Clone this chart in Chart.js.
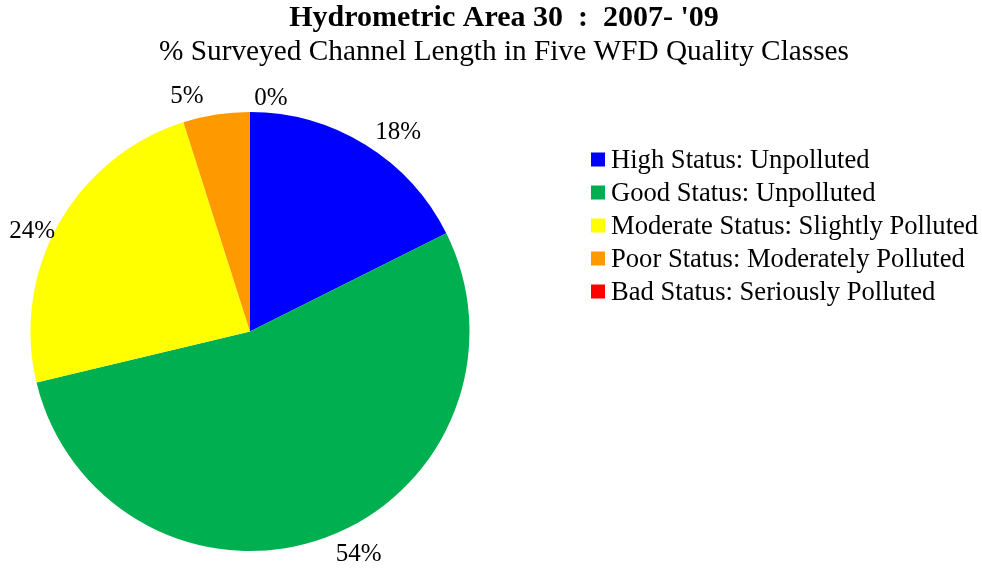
<!DOCTYPE html>
<html>
<head>
<meta charset="utf-8">
<title>Hydrometric Area 30</title>
<script src="https://cdn.jsdelivr.net/npm/chart.js@4/dist/chart.umd.min.js"></script>
<style>
  html, body { margin: 0; padding: 0; background: #fff; }
  #wrap { width: 982px; height: 570px; }
</style>
</head>
<body>
<div id="wrap"><canvas id="statusChart" width="982" height="570"></canvas></div>
<script>
// WFD classes and % of surveyed channel length
const categories = [
    'High Status: Unpolluted',
    'Good Status: Unpolluted',
    'Moderate Status: Slightly Polluted',
    'Poor Status: Moderately Polluted',
    'Bad Status: Seriously Polluted'
];
const shares = [17.6, 53.6, 23.8, 4.9, 0];
const colours = ['#0000FF', '#00B050', '#FFFF00', '#FF9900', '#FF0000'];

const titleText = "Hydrometric Area 30  :  2007- '09";
const subtitleText = '% Surveyed Channel Length in Five WFD Quality Classes';

const SERIF = "'Liberation Serif', 'Times New Roman', serif";

// labels, legend and headings drawn on the canvas
const textPlugin = {
    id: 'chartText',
    afterDatasetsDraw(chart, args, opts) {
        const ctx = chart.ctx;
        const total = shares.reduce((a, b) => a + b, 0);
        ctx.save();
        ctx.fillStyle = '#000';

        // percentage labels outside each slice (nudged like excel does)
        ctx.font = opts.labelFont;
        ctx.textAlign = 'center';
        ctx.textBaseline = 'middle';
        const arcs = chart.getDatasetMeta(0).data;
        arcs.forEach((arc, i) => {
            const p = arc.getProps(['x', 'y', 'startAngle', 'endAngle', 'outerRadius'], true);
            const n = opts.nudge[i] || [0, 0];
            const a = (p.startAngle + p.endAngle) / 2 + n[0] * Math.PI / 180;
            const d = p.outerRadius + opts.labelGap + n[1];
            const pct = Math.round(shares[i] / total * 100) + '%';
            ctx.fillText(pct, p.x + Math.cos(a) * d, p.y + Math.sin(a) * d);
        });

        // title + subtitle
        ctx.textBaseline = 'alphabetic';
        ctx.font = 'bold ' + opts.titleFont;
        ctx.fillText(titleText, opts.titleX, opts.titleY);
        ctx.font = opts.subtitleFont;
        ctx.fillText(subtitleText, opts.titleX, opts.subtitleY);

        // legend
        ctx.textAlign = 'left';
        ctx.font = opts.legendFont;
        categories.forEach((name, i) => {
            const cy = opts.legendY + i * opts.legendStep;
            ctx.fillStyle = colours[i];
            ctx.fillRect(opts.legendX, cy - opts.box / 2, opts.box, opts.box);
            ctx.fillStyle = '#000';
            ctx.fillText(name, opts.legendX + opts.box + 6, cy + 8);
        });
        ctx.restore();
    }
};

const ctx = document.getElementById('statusChart').getContext('2d');
const statusChart = new Chart(ctx, {
    type: 'pie',
    data: {
        labels: categories,
        datasets: [{
            data: shares,
            backgroundColor: colours,
            borderWidth: 0,
            hoverOffset: 0,
            offset: 0
        }]
    },
    options: {
        responsive: false,
        animation: false,
        layout: {
            padding: { left: 30.5, right: 512.5, top: 112, bottom: 19 }
        },
        plugins: {
            legend: { display: false },
            title: { display: false },
            tooltip: { enabled: false },
            chartText: {
                labelFont: '25px ' + SERIF,
                labelGap: 23.5,
                // [degrees, px] tweaks per label
                nudge: [[4.9, 5.4], [-6, 5.1], [-4.8, -3.2], [-6.2, 0.3], [5.1, -8.8]],
                titleFont: '30px ' + SERIF,
                subtitleFont: '29.3px ' + SERIF,
                titleX: 504,
                titleY: 26,
                subtitleY: 60,
                legendFont: '26.6px ' + SERIF,
                legendX: 591,
                legendY: 159.5,
                legendStep: 33,
                box: 14
            }
        }
    },
    plugins: [textPlugin]
});
</script>
</body>
</html>
